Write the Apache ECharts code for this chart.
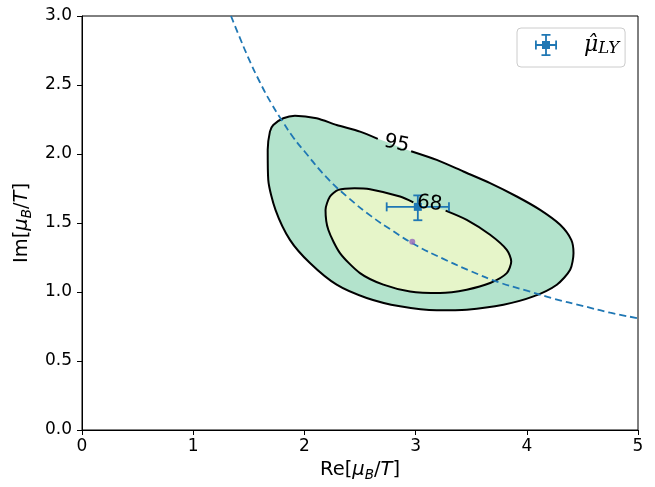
<!DOCTYPE html>
<html><head><meta charset="utf-8">
<script src="https://cdn.jsdelivr.net/npm/echarts@6/dist/echarts.min.js"></script>
<style>html,body{margin:0;padding:0;background:#fff}#c{width:655px;height:487px}</style>
</head><body><div id="c"></div>
<script>
// 95% contour (ordered so the label gap lies between last and first point)
const c95X = [2.96, 3.19, 3.43, 3.67, 3.91, 4.12, 4.30, 4.40, 4.42, 4.39, 4.27, 4.06, 3.79, 3.46, 3.19, 2.86, 2.56, 2.29, 2.05, 1.87, 1.74, 1.675, 1.67, 1.69, 1.72, 1.81, 1.915, 2.11, 2.29, 2.50, 2.66];
const c95Y = [2.02, 1.957, 1.873, 1.789, 1.692, 1.595, 1.487, 1.378, 1.282, 1.161, 1.053, 0.968, 0.908, 0.872, 0.867, 0.896, 0.957, 1.053, 1.210, 1.378, 1.595, 1.813, 2.03, 2.162, 2.21, 2.259, 2.278, 2.259, 2.21, 2.162, 2.11];
// 68% contour
const c68X = [3.27, 3.46, 3.67, 3.82, 3.86, 3.82, 3.67, 3.46, 3.22, 2.95, 2.71, 2.50, 2.32, 2.215, 2.19, 2.23, 2.305, 2.45, 2.59, 2.86, 2.98];
const c68Y = [1.590, 1.523, 1.415, 1.306, 1.221, 1.137, 1.065, 1.017, 0.993, 1.004, 1.053, 1.137, 1.282, 1.451, 1.595, 1.692, 1.740, 1.752, 1.745, 1.692, 1.650];
// dashed curve
const curveX = [1.34, 1.40, 1.50, 1.60, 1.70, 1.80, 1.90, 2.00, 2.20, 2.40, 2.60, 2.80, 3.00, 3.25, 3.50, 3.75, 4.00, 4.25, 4.50, 4.75, 5.00];
const curveY = [3.00, 2.88, 2.69, 2.52, 2.37, 2.24, 2.12, 2.02, 1.83, 1.68, 1.55, 1.44, 1.34, 1.24, 1.15, 1.07, 1.01, 0.95, 0.90, 0.85, 0.81];
// estimate with error bars
const estX = 3.02, estY = 1.617, estXlo = 2.74, estXhi = 3.30, estYlo = 1.52, estYhi = 1.70;
// purple point
const dotX = 2.97, dotY = 1.364;
// contour labels
const labelX = [2.83, 3.126];
const labelY = [2.073, 1.641];
const labelText = ['95', '68'];
const xTicks = [0, 1, 2, 3, 4, 5];
const yTicks = [0, 0.5, 1, 1.5, 2, 2.5, 3];

const contours = [
  {x: c95X, y: c95Y, fill: '#b3e3cc'},
  {x: c68X, y: c68Y, fill: '#e6f5c9'}
];
const BLUE = '#1f77b4';
const chart = echarts.init(document.getElementById('c'), null, {renderer: 'canvas'});

const nameRich = {
  n: {fontSize: 19.5, fontFamily: 'DejaVu Sans', color: '#000', lineHeight: 24},
  i: {fontSize: 19.5, fontFamily: 'DejaVu Sans', fontStyle: 'italic', color: '#000', lineHeight: 24},
  s: {fontSize: 13.5, fontFamily: 'DejaVu Sans', fontStyle: 'italic', color: '#000', lineHeight: 12, verticalAlign: 'bottom'}
};

const option = {
  animation: false,
  backgroundColor: '#fff',
  grid: {left: 82, right: 17, top: 16, bottom: 56.5, show: true, borderColor: '#000', borderWidth: 1, containLabel: false},
  xAxis: {
    type: 'value', min: xTicks[0], max: xTicks[xTicks.length - 1], interval: 1,
    axisLine: {show: true, onZero: false, lineStyle: {color: '#000', width: 1}},
    axisTick: {show: true, length: 5, inside: false, lineStyle: {color: '#000'}},
    axisLabel: {fontSize: 17, fontFamily: 'DejaVu Sans', color: '#000', margin: 8},
    splitLine: {show: false},
    name: '{n|Re[}{i|μ}{s|B}{n|/}{i|T}{n|]}', nameLocation: 'middle', nameGap: 28,
    nameTextStyle: {rich: nameRich}
  },
  yAxis: {
    type: 'value', min: yTicks[0], max: yTicks[yTicks.length - 1], interval: 0.5,
    axisLine: {show: true, onZero: false, lineStyle: {color: '#000', width: 1}},
    axisTick: {show: true, length: 5, inside: false, lineStyle: {color: '#000'}},
    axisLabel: {fontSize: 17, fontFamily: 'DejaVu Sans', color: '#000', margin: 10, formatter: v => v.toFixed(1)},
    splitLine: {show: false},
    name: '{n|Im[}{i|μ}{s|B}{n|/}{i|T}{n|]}', nameLocation: 'middle', nameGap: 46, nameRotate: 90,
    nameTextStyle: {rich: nameRich}
  },
  legend: {
    show: true, left: 517, top: 28, orient: 'vertical',
    padding: [6, 6, 10, 18],
    borderColor: '#cccccc', borderWidth: 1, borderRadius: 4,
    backgroundColor: 'rgba(255,255,255,0.8)',
    itemWidth: 22, itemHeight: 22,
    data: [{
      name: 'muhat',
      icon: 'path://M0 10.1H22V11.9H0Z M0 6.5H1.8V15.5H0Z M20.2 6.5H22V15.5H20.2Z M10.1 0H11.9V22H10.1Z M6.5 0H15.5V1.8H6.5Z M6.5 20.2H15.5V22H6.5Z M7 7H15V15H7Z'
    }],
    formatter: () => '{m|μ̂}{s|LY}',
    textStyle: {
      rich: {
        m: {fontSize: 22, fontFamily: 'DejaVu Serif', fontStyle: 'italic', color: '#000', padding: [0, 0, 0, 22], lineHeight: 24},
        s: {fontSize: 16.5, fontFamily: 'DejaVu Serif', fontStyle: 'italic', color: '#000', verticalAlign: 'bottom', lineHeight: 15}
      }
    }
  },
  series: [
    {
      type: 'custom', name: 'fills', clip: true, silent: true, z: 1,
      data: contours.map((c, i) => [c.x[0], c.y[0], i]),
      renderItem: (params, api) => {
        const c = contours[params.dataIndex];
        const pts = c.x.map((x, k) => api.coord([x, c.y[k]]));
        return {type: 'polygon', shape: {points: pts, smooth: 0.25}, style: {fill: c.fill, stroke: null}};
      }
    },
    ...contours.map(c => ({
      type: 'line', name: 'outline', symbol: 'none', smooth: 0.25, z: 2, silent: true,
      lineStyle: {color: '#000', width: 2},
      data: c.x.map((x, k) => [x, c.y[k]])
    })),
    {
      type: 'line', name: 'curve', symbol: 'none', smooth: true, z: 3, silent: true, clip: true,
      lineStyle: {color: BLUE, width: 1.8, type: [7, 4]},
      data: curveX.map((x, k) => [x, curveY[k]])
    },
    {
      type: 'scatter', name: 'dot', symbol: 'circle', symbolSize: 6, z: 4, silent: true,
      itemStyle: {color: '#9467bd'},
      data: [[dotX, dotY]]
    },
    {
      type: 'custom', name: 'muhat', z: 5, silent: true,
      itemStyle: {color: BLUE},
      data: [[estX, estY, estXlo, estXhi, estYlo, estYhi]],
      encode: {x: 0, y: 1},
      renderItem: (params, api) => {
        const c = api.coord([api.value(0), api.value(1)]);
        const l = api.coord([api.value(2), api.value(1)]);
        const r = api.coord([api.value(3), api.value(1)]);
        const b = api.coord([api.value(0), api.value(4)]);
        const t = api.coord([api.value(0), api.value(5)]);
        const cap = 4.5;
        const st = {stroke: BLUE, lineWidth: 1.8};
        return {type: 'group', children: [
          {type: 'line', shape: {x1: l[0], y1: l[1], x2: r[0], y2: r[1]}, style: st},
          {type: 'line', shape: {x1: l[0], y1: l[1] - cap, x2: l[0], y2: l[1] + cap}, style: st},
          {type: 'line', shape: {x1: r[0], y1: r[1] - cap, x2: r[0], y2: r[1] + cap}, style: st},
          {type: 'line', shape: {x1: b[0], y1: b[1], x2: t[0], y2: t[1]}, style: st},
          {type: 'line', shape: {x1: b[0] - cap, y1: b[1], x2: b[0] + cap, y2: b[1]}, style: st},
          {type: 'line', shape: {x1: t[0] - cap, y1: t[1], x2: t[0] + cap, y2: t[1]}, style: st},
          {type: 'rect', shape: {x: c[0] - 4, y: c[1] - 4, width: 8, height: 8}, style: {fill: BLUE}}
        ]};
      }
    },
    {
      type: 'scatter', name: 'labels', symbolSize: 10, z: 6, silent: true,
      itemStyle: {color: 'rgba(0,0,0,0)'},
      data: [
        {value: [labelX[0], labelY[0]], label: {rotate: -12}},
        {value: [labelX[1], labelY[1]], label: {rotate: -6}}
      ],
      label: {
        show: true, position: 'inside', color: '#000', fontSize: 20, fontFamily: 'DejaVu Sans',
        textBorderWidth: 0, textBorderColor: 'transparent', opacity: 1,
        formatter: p => labelText[p.dataIndex]
      }
    }
  ]
};
chart.setOption(option);
</script>
</body></html>
